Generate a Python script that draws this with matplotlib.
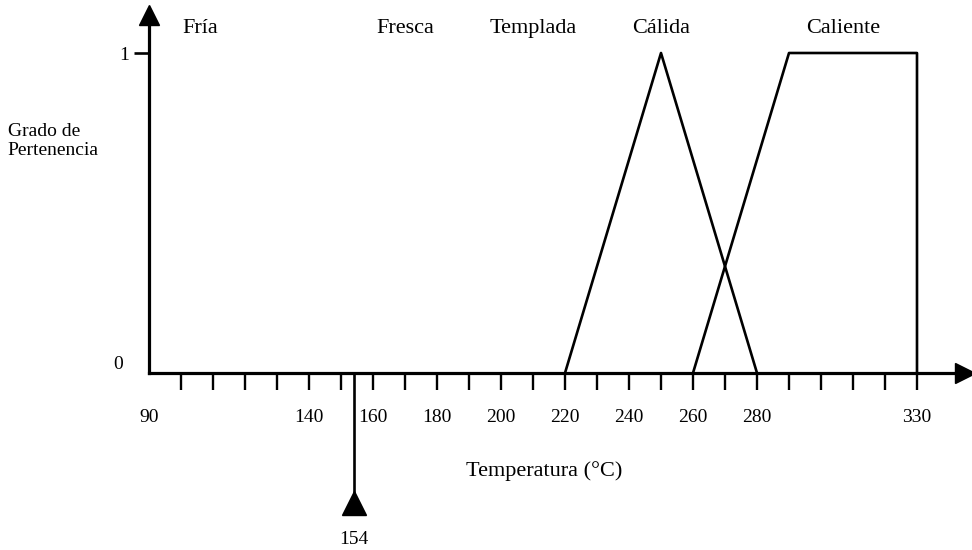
import matplotlib.pyplot as plt

# funciones de pertenencia (temperatura, grado)
calida_x = [220, 250, 280]
calida_y = [0, 1, 0]
caliente_x = [260, 290, 330, 330]
caliente_y = [0, 1, 1, 0]

# etiquetas de los conjuntos difusos y su posicion en x
conjuntos = ["Fría", "Fresca", "Templada", "Cálida", "Caliente"]
pos_conjuntos = [106, 170, 210, 250, 307]

marcas = list(range(100, 340, 10))
etiquetas = [90, 140, 160, 180, 200, 220, 240, 260, 280, 330]
entrada = 154

plt.rcParams['font.family'] = ['Liberation Serif', 'DejaVu Serif']

fig = plt.figure(figsize=(9.72, 5.5), dpi=100)
ax = fig.add_axes([149 / 972, 1 - 373 / 550, (965 - 149) / 972, 358 / 550])
ax.set_xlim(90, 90 + (965 - 149) / 3.2)
ax.set_ylim(0, 358 / 320)

ax.plot(calida_x, calida_y, color='black', lw=1.9, clip_on=False)
ax.plot(caliente_x, caliente_y, color='black', lw=1.9, clip_on=False)

for s in ['top', 'right']:
    ax.spines[s].set_visible(False)
for s in ['left', 'bottom']:
    ax.spines[s].set_linewidth(2.3)

# flechas de los ejes
ax.plot(1, 0, '>k', ms=14, transform=ax.get_yaxis_transform(), clip_on=False)
ax.plot(90, 1, '^k', ms=14, transform=ax.get_xaxis_transform(), clip_on=False)

# ticks del eje x
ax.set_xticks(marcas, labels=[str(m) if m in etiquetas else '' for m in marcas])
ax.set_xticks([90], labels=['90'], minor=True)
ax.tick_params(axis='x', which='major', direction='out', length=12, width=1.7,
               pad=14, labelsize=14)
ax.tick_params(axis='x', which='minor', length=0, pad=26, labelsize=14)

ax.set_yticks([1], labels=['1'])
ax.set_yticks([0], labels=['0'], minor=True)
ax.tick_params(axis='y', which='major', direction='out', length=11, width=1.9,
               pad=3, labelsize=14)
ax.tick_params(axis='y', which='minor', length=0, pad=19, labelsize=14)
for lab in ax.get_yticklabels(minor=True):
    lab.set_va('bottom')

for nombre, px in zip(conjuntos, pos_conjuntos):
    ax.text(px, 1.078, nombre, ha='center', va='center', fontsize=16)

# valor de entrada
ax.plot([entrada, entrada], [0, -0.38], color='black', lw=1.9, clip_on=False)
ax.plot(entrada, -0.405, '^k', ms=17, clip_on=False)
ax.text(entrada, -0.52, str(entrada), ha='center', va='center', fontsize=14)

ax.set_xlabel('Temperatura (°C)', fontsize=16)
ax.xaxis.set_label_coords(0.484, -0.275)
ax.xaxis.label.set_va('center')
ax.set_ylabel('Grado de\nPertenencia', rotation=0, fontsize=14, ha='left',
              va='center', linespacing=1.1)
ax.yaxis.set_label_coords(-0.173, 0.648)

fig.savefig('out.png', dpi=100)
